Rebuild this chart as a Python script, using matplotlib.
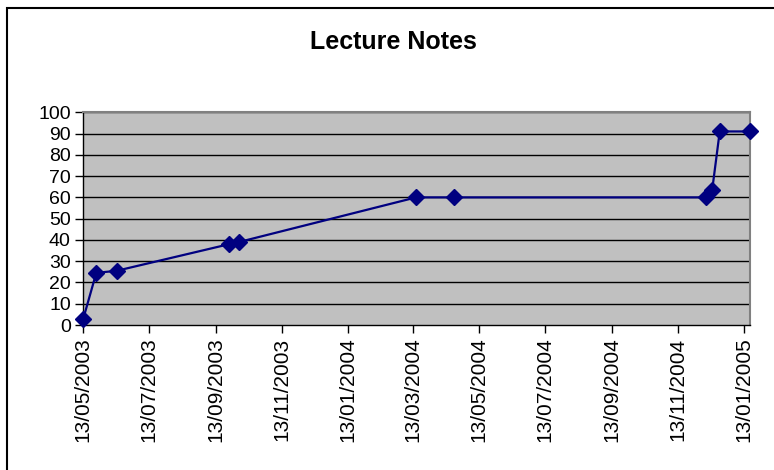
import matplotlib
matplotlib.use('Agg')
import matplotlib.pyplot as plt
import matplotlib.dates as mdates
from matplotlib.patches import Rectangle
from datetime import datetime

# Datos
fechas = ['13/05/2003', '25/05/2003', '13/06/2003', '25/09/2003', '04/10/2003',
          '16/03/2004', '20/04/2004', '09/12/2004', '15/12/2004', '22/12/2004',
          '19/01/2005']
valores = [3, 24.5, 25.5, 38, 39, 60, 60, 60, 63.5, 91, 91]

etiquetas_x = ['13/05/2003', '13/07/2003', '13/09/2003', '13/11/2003', '13/01/2004',
               '13/03/2004', '13/05/2004', '13/07/2004', '13/09/2004', '13/11/2004',
               '13/01/2005']
ticks_y = [0, 10, 20, 30, 40, 50, 60, 70, 80, 90, 100]

plt.rcParams['font.family'] = ['Liberation Sans', 'DejaVu Sans']

x = [datetime.strptime(f, '%d/%m/%Y') for f in fechas]
xt = [datetime.strptime(f, '%d/%m/%Y') for f in etiquetas_x]

fig = plt.figure(figsize=(7.74, 4.70), dpi=100)
ax = fig.add_axes([83.3 / 774, 1 - 325 / 470, (750 - 83.3) / 774, (325 - 112.3) / 470])
ax.set_facecolor('#C0C0C0')

# Lineas de la cuadricula
for v in ticks_y[1:]:
    ax.axhline(v, color='black', linewidth=1, zorder=1)

ax.plot(x, valores, color='#000080', linewidth=1.6, marker='D', markersize=8.5,
        markerfacecolor='#000080', markeredgecolor='#000080', zorder=3, clip_on=False)

ax.set_xlim(x[0], x[-1])
ax.set_ylim(0, 100)
ax.set_xticks(xt)
ax.set_xticklabels(etiquetas_x, rotation=90, fontsize=15)
ax.set_yticks(ticks_y)
ax.set_yticklabels([str(v) for v in ticks_y], fontsize=14)
ax.tick_params(axis='both', direction='out', length=6, width=1, color='black', pad=3)

for lado in ['top', 'right']:
    ax.spines[lado].set_color('#808080')
    ax.spines[lado].set_linewidth(1.5)
for lado in ['left', 'bottom']:
    ax.spines[lado].set_color('black')
    ax.spines[lado].set_linewidth(1)

# Titulo
fig.text(393 / 774, 1 - 42 / 470, 'Lecture Notes', ha='center', va='center',
         fontsize=18, fontweight='bold')

# Marco del grafico
fig.patches.append(Rectangle((7 / 774, -0.1), 1.2, (470 - 8) / 470 + 0.1,
                             transform=fig.transFigure, fill=False,
                             edgecolor='black', linewidth=1.5))

fig.savefig('out.png', dpi=100)
